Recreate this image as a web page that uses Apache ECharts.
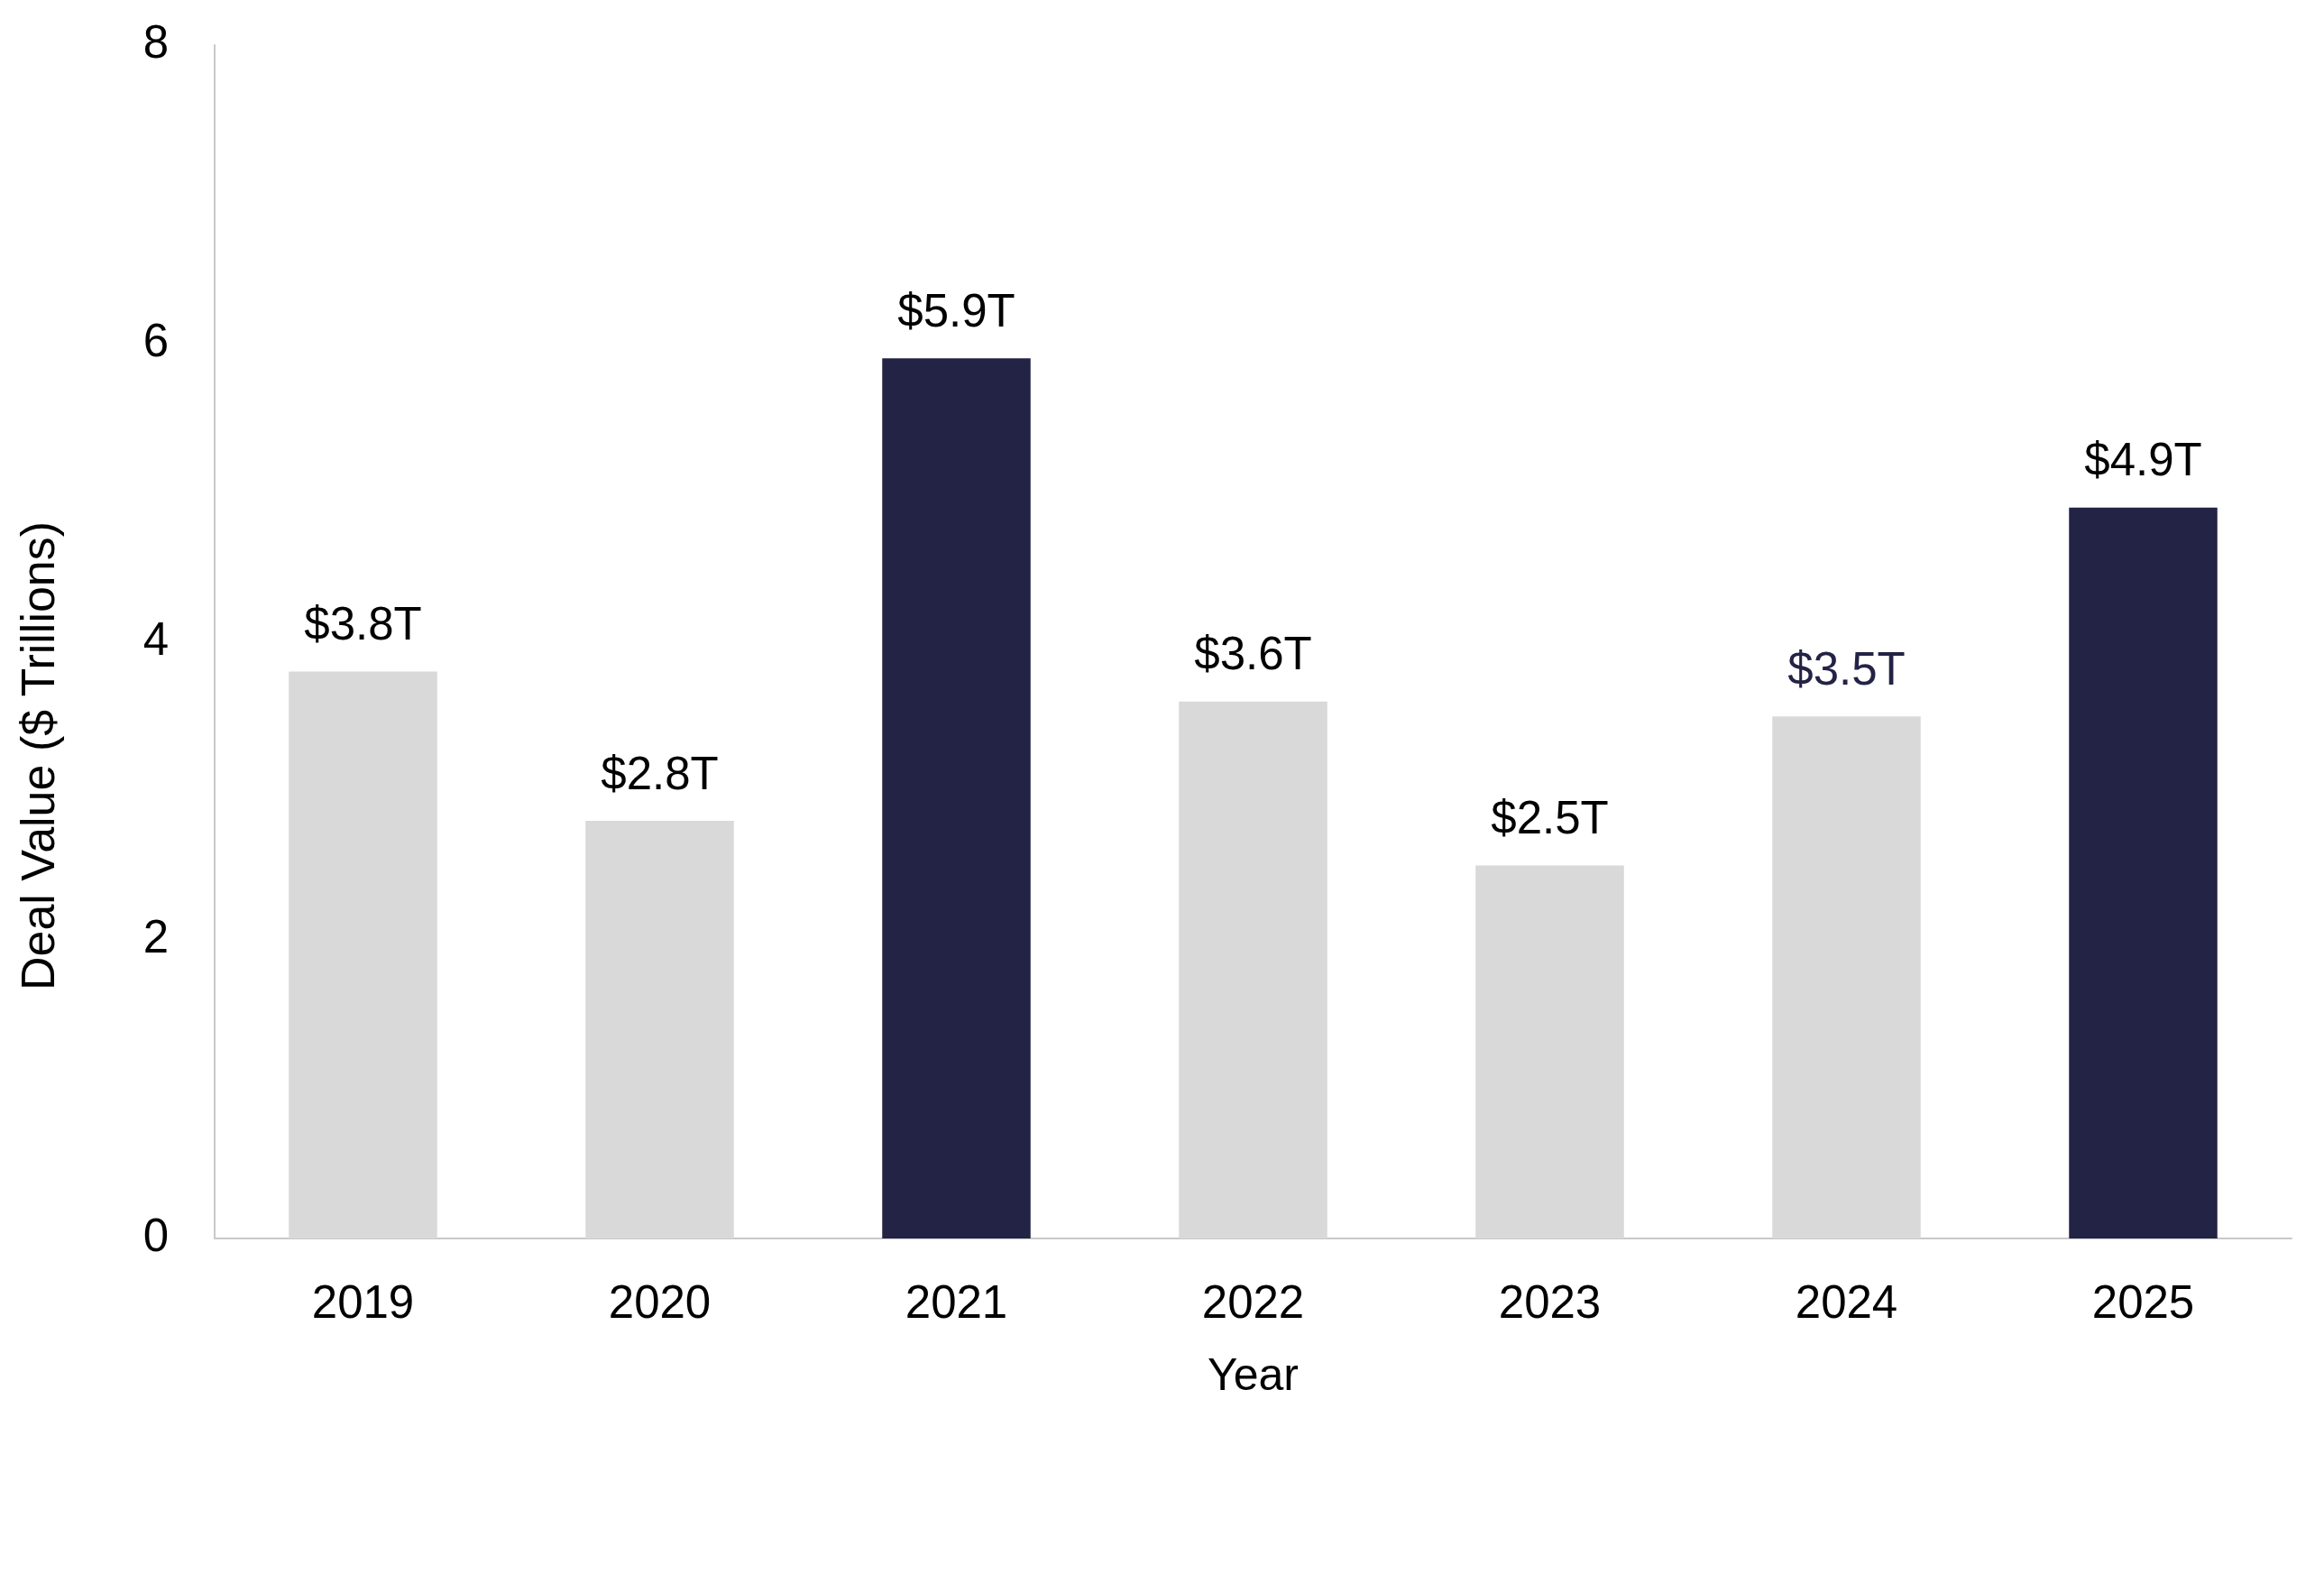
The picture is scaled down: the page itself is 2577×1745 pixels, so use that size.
<!DOCTYPE html>
<html>
<head>
<meta charset="utf-8">
<script src="https://cdn.jsdelivr.net/npm/echarts@6/dist/echarts.min.js"></script>
<style>
html,body{margin:0;padding:0;background:#fff;}
#chart{width:2577px;height:1745px;}
</style>
</head>
<body>
<div id="chart"></div>
<script>
const years = ['2019','2020','2021','2022','2023','2024','2025'];
const dealValues = [3.8, 2.8, 5.9, 3.6, 2.5, 3.5, 4.9];
const highlightYears = ['2021','2025'];
const navyLabelYears = ['2024'];
const yTicks = [0, 2, 4, 6, 8];

const NAVY = '#232346';
const GREY = '#d9d9d9';
const FONT = '"Liberation Sans", Arial, sans-serif';

const chart = echarts.init(document.getElementById('chart'));
chart.setOption({
  backgroundColor: '#ffffff',
  animation: false,
  grid: { left: 238, right: 36, top: 50, bottom: 372, containLabel: false },
  xAxis: {
    type: 'category',
    data: years,
    name: 'Year',
    nameLocation: 'middle',
    nameGap: 129,
    nameTextStyle: { fontFamily: FONT, fontSize: 50, color: '#000', verticalAlign: 'top' },
    axisLine: { show: true, lineStyle: { color: '#c8c8c8', width: 2 } },
    axisTick: { show: false },
    axisLabel: { fontFamily: FONT, fontSize: 51, color: '#000', margin: 48 }
  },
  yAxis: {
    type: 'value',
    min: yTicks[0],
    max: yTicks[yTicks.length - 1],
    interval: 2,
    axisLine: { show: true, lineStyle: { color: '#c8c8c8', width: 2 } },
    axisTick: { show: false },
    splitLine: { show: false },
    axisLabel: { fontFamily: FONT, fontSize: 51, color: '#000', margin: 51 }
  },
  graphic: [{
    type: 'text',
    x: 46,
    y: 838,
    rotation: Math.PI / 2,
    style: {
      text: 'Deal Value ($ Trillions)',
      font: '52px ' + FONT,
      fill: '#000',
      align: 'center',
      verticalAlign: 'middle'
    }
  }],
  series: [{
    type: 'bar',
    barWidth: '50%',
    data: years.map((y, i) => ({
      value: dealValues[i],
      itemStyle: { color: highlightYears.includes(y) ? NAVY : GREY },
      label: { color: navyLabelYears.includes(y) ? NAVY : '#000' }
    })),
    label: {
      show: true,
      position: 'top',
      distance: 24,
      fontFamily: FONT,
      fontSize: 51,
      formatter: p => '$' + p.value.toFixed(1) + 'T'
    }
  }]
});
</script>
</body>
</html>
